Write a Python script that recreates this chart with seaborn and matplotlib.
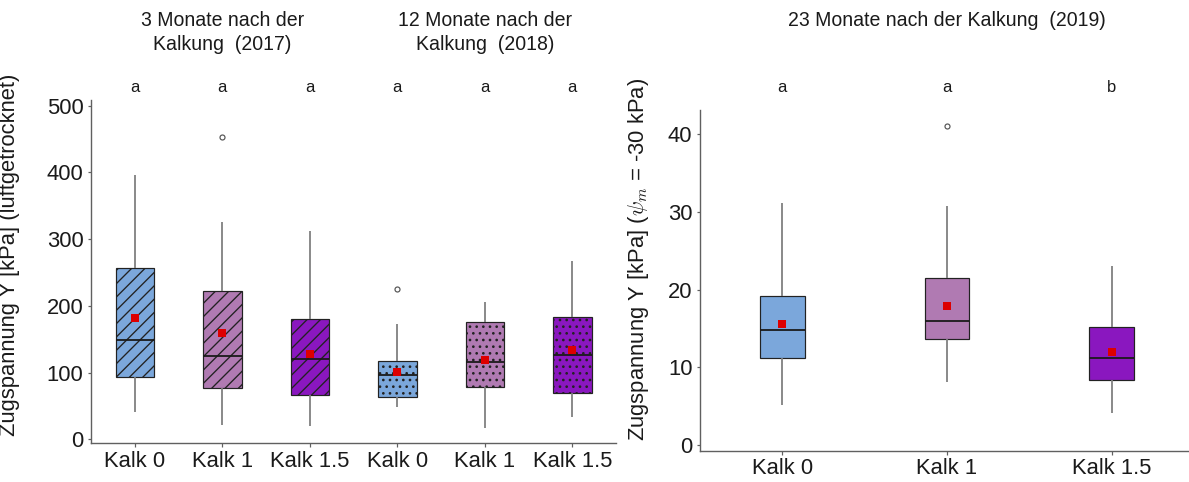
import numpy as np
import pandas as pd
import matplotlib
matplotlib.use("Agg")
import matplotlib.pyplot as plt
import matplotlib.transforms as mtransforms
import seaborn as sns

# ---- Box statistics, air-dried samples (2017: 3 months, 2018: 12 months) ----
left_labels = ["Kalk 0", "Kalk 1", "Kalk 1.5", "Kalk 0", "Kalk 1", "Kalk 1.5"]
left_years = ["2017", "2017", "2017", "2018", "2018", "2018"]
left_low = [41.0, 21.5, 20.0, 48.5, 16.5, 33.5]
left_q1 = [93.5, 76.5, 66.0, 64.0, 79.0, 70.0]
left_median = [148.5, 124.5, 120.0, 96.5, 116.5, 126.5]
left_q3 = [257.5, 222.0, 181.0, 118.0, 176.0, 183.5]
left_high = [396.5, 325.0, 312.5, 172.5, 206.0, 267.5]
left_outliers = [[], [452.5], [], [225.0], [], []]
left_means = [182.0, 159.0, 127.5, 101.5, 119.5, 134.5]
left_letters = ["a", "a", "a", "a", "a", "a"]

# ---- Box statistics at -30 kPa matric potential (2019: 23 months) ----
right_labels = ["Kalk 0", "Kalk 1", "Kalk 1.5"]
right_years = ["2019", "2019", "2019"]
right_low = [5.1, 8.1, 4.1]
right_q1 = [11.2, 13.6, 8.4]
right_median = [14.8, 15.9, 11.2]
right_q3 = [19.2, 21.5, 15.2]
right_high = [31.1, 30.7, 23.0]
right_outliers = [[], [41.0], []]
right_means = [15.6, 17.9, 12.0]
right_letters = ["a", "a", "b"]

treatment_colors = {"Kalk 0": "#7BA7DB", "Kalk 1": "#B07AB2", "Kalk 1.5": "#8A17BF"}
year_hatch = {"2017": "//", "2018": "..", "2019": None}

W, H, DPI = 1189, 482, 80
PT = 72.0 / DPI  # points per pixel


def summary_frame(labels, years, low, q1, med, q3, high, outliers):
    """Nine values per group whose quartiles/whiskers equal the given summary."""
    rows = []
    keys = []
    for lab, yr, lo, a, m, b, hi, out in zip(labels, years, low, q1, med, q3, high, outliers):
        key = f"{lab} ({yr})"
        keys.append(key)
        tail = [hi, out[0]] if out else [hi, hi]
        for v in [lo, a, a, m, m, b, b] + tail:
            rows.append({"key": key, "Kalk": lab, "year": yr, "value": v})
    return pd.DataFrame(rows), keys


sns.set_theme(style="ticks")
plt.rcParams["font.family"] = ["Liberation Sans", "DejaVu Sans"]
plt.rcParams["mathtext.fontset"] = "cm"
plt.rcParams["hatch.linewidth"] = 1.2
plt.rcParams["axes.edgecolor"] = "#606060"

fig = plt.figure(figsize=(W / DPI, H / DPI), dpi=DPI)


def px_axes(x0, x1, ytop, ybot):
    return fig.add_axes([x0 / W, 1 - ybot / H, (x1 - x0) / W, (ybot - ytop) / H])


ax_l = px_axes(91, 616, 100, 443.3)
ax_r = px_axes(700, 1194, 110, 450.7)


def draw_panel(ax, labels, years, low, q1, med, q3, high, outliers, means, width):
    df, keys = summary_frame(labels, years, low, q1, med, q3, high, outliers)
    palette = {k: treatment_colors[lab] for k, lab in zip(keys, labels)}
    sns.boxplot(
        data=df, x="key", y="value", hue="key", order=keys, hue_order=keys,
        palette=palette, saturation=1, width=width, dodge=False, legend=False,
        linecolor="#222222", linewidth=1.2 * PT, showcaps=False, whis=1.5,
        whiskerprops=dict(color="#808080", linewidth=1.8 * PT),
        medianprops=dict(color="#1a1a1a", linewidth=1.8 * PT),
        flierprops=dict(marker="o", markersize=5 * PT, markerfacecolor="white",
                        markeredgecolor="#555555", markeredgewidth=1.2 * PT),
        ax=ax,
    )
    for patch, yr in zip(ax.patches, years):
        h = year_hatch[yr]
        if h:
            patch.set_hatch(h)
        patch.set_edgecolor("#222222")
        patch.set_linewidth(1.2 * PT)
    mean_df = pd.DataFrame({"key": keys, "mean": means})
    sns.stripplot(data=mean_df, x="key", y="mean", order=keys, jitter=False,
                  marker="s", color="#DD0000", size=8 * PT, linewidth=0,
                  ax=ax, zorder=6)
    ax.set_xticks(range(len(keys)))
    ax.set_xticklabels(labels)
    ax.set_xlim(-0.5, len(keys) - 0.5)
    ax.set_xlabel("")
    sns.despine(ax=ax)
    for side in ("left", "bottom"):
        ax.spines[side].set_color("#606060")
        ax.spines[side].set_linewidth(1.4 * PT)
    ax.tick_params(axis="both", length=3.5 * PT, width=1.2 * PT, color="#606060",
                   pad=4 * PT, labelsize=22 * PT, labelcolor="#1a1a1a")
    ax.set_facecolor("white")


draw_panel(ax_l, left_labels, left_years, left_low, left_q1, left_median,
           left_q3, left_high, left_outliers, left_means, 0.44)
ax_l.set_ylim(-6.0, 508.6)
ax_l.set_yticks([0, 100, 200, 300, 400, 500])
ax_l.set_ylabel("Zugspannung Y [kPa] (luftgetrocknet)", fontsize=22 * PT, color="#1a1a1a")
ax_l.yaxis.set_label_coords(-0.135, 0.548)

draw_panel(ax_r, right_labels, right_years, right_low, right_q1, right_median,
           right_q3, right_high, right_outliers, right_means, 0.27)
ax_r.set_ylim(-0.73, 43.1)
ax_r.set_yticks([0, 10, 20, 30, 40])
ax_r.set_ylabel(r"Zugspannung Y [kPa] ($\psi_m$ = -30 kPa)", fontsize=22 * PT, color="#1a1a1a")
ax_r.yaxis.set_label_coords(-0.0998, 0.562)

# significance letters above each box
for ax, letters in ((ax_l, left_letters), (ax_r, right_letters)):
    tr = mtransforms.blended_transform_factory(ax.transData, fig.transFigure)
    for i, let in enumerate(letters):
        ax.text(i, 1 - 87 / H, let, transform=tr, ha="center", va="center",
                fontsize=16.5 * PT, color="#1a1a1a")

# period headings
tr_l = mtransforms.blended_transform_factory(ax_l.transData, fig.transFigure)
ax_l.text(1, 1 - 32.5 / H, "3 Monate nach der\nKalkung  (2017)", transform=tr_l,
          ha="center", va="center", fontsize=19.5 * PT, color="#1a1a1a", linespacing=1.35)
ax_l.text(4, 1 - 32.5 / H, "12 Monate nach der\nKalkung  (2018)", transform=tr_l,
          ha="center", va="center", fontsize=19.5 * PT, color="#1a1a1a", linespacing=1.35)
tr_r = mtransforms.blended_transform_factory(ax_r.transData, fig.transFigure)
ax_r.text(1, 1 - 20 / H, "23 Monate nach der Kalkung  (2019)", transform=tr_r,
          ha="center", va="center", fontsize=19.5 * PT, color="#1a1a1a")

fig.savefig("out.png", dpi=DPI, facecolor="white")
